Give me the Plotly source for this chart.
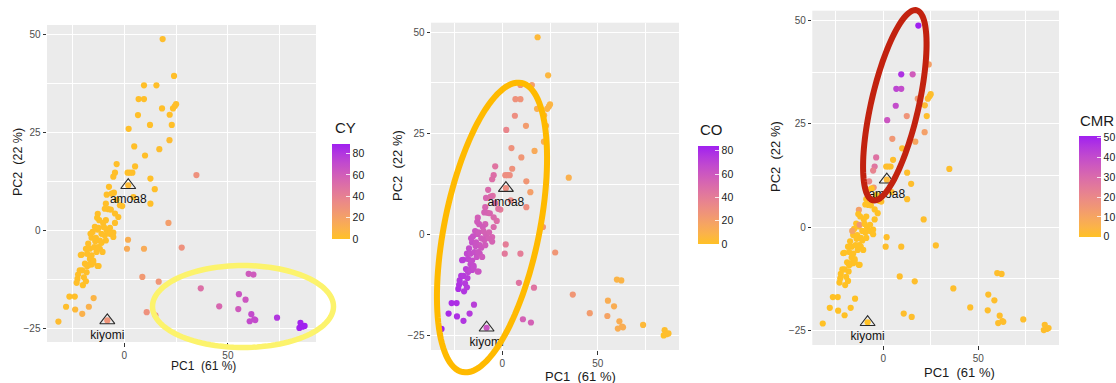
import numpy as np
import plotly.graph_objects as go

W, H = 1116, 383

# ---------------- data ----------------
pc1 = [18.5, 24.0, 9.5, 15.5, 6.9, 9.5, 18.2, 23.5, 24.4, 25.0, 6.6, 21.9, 12.4, 22.9, 2.1,
       21.8, 16.9, 4.8, 10.0, -3.7, 5.2, -4.5, -5.3, 1.6, 2.7, 3.9, 12.6, 34.8, -7.4, 14.7,
       -5.0, -8.5, 4.4, 12.6, -1.0, 21.3, 1.8, 1.3, 9.5, 27.7, 8.7, 16.6, 36.9, 60.0, 62.3,
       55.3, 58.5, 45.8, 55.0, 61.3, 60.5, 62.7, 63.2, 73.7, 85.0, 84.5, 86.0, 87.0, 10.8, 15.0,
       -8.2, 1.9,
       -31.8, -28.1, -26.5, -23.9, -23.7, -20.3, -17.1, -14.8, -23.0, -22.6, -22.3, -21.5, -20.3,
       -18.2, -19.5, -19.0, -17.9, -15.8, -12.9, -21.0, -16.6, -15.0, -17.9, -15.8, -13.4, -11.8,
       -17.4, -18.5, -16.6, -14.5, -12.6, -11.0, -15.3, -15.8, -13.7, -11.8, -9.4, -8.9, -8.5,
       -11.0, -12.9, -14.2, -16.3, -12.4, -12.8, -8.9, -10.2, -12.1, -13.1, -6.9, -5.3, -6.9,
       -5.3, -4.5, -2.9, -4.5, -6.5, -7.7, -8.9, -9.4, -6.1, -3.7, -2.1, -16.7, -20.0, -18.5,
       -15.0, -12.4, -20.5, -14.0, -10.5, -9.8]
pc2 = [48.8, 39.4, 37.0, 37.0, 33.5, 33.5, 31.1, 31.1, 31.7, 32.2, 29.4, 29.5, 26.9, 26.9, 25.9,
       23.0, 20.7, 21.4, 19.1, 16.9, 16.3, 14.7, 13.7, 14.7, 14.7, 14.7, 13.2, 14.1, 11.1, 10.5,
       9.6, 9.1, 8.5, 6.8, 6.2, 1.9, -2.4, -4.7, -4.7, -4.4, -11.9, -13.1, -14.8, -11.1, -11.3,
       -16.3, -17.7, -19.4, -20.1, -21.4, -23.2, -22.7, -22.9, -22.3, -23.6, -24.9, -24.6, -24.4, -20.9, -21.7,
       -23.0, 11.5,
       -23.3, -19.5, -16.9, -16.9, -20.2, -21.3, -19.5, -17.3, -13.4, -12.4, -11.3, -10.2, -10.2,
       -10.7, -12.0, -8.5, -9.2, -8.7, -9.1, -6.3, -7.3, -7.7, -6.0, -6.4, -5.5, -4.7,
       -3.4, -4.7, -4.7, -4.3, -4.3, -3.2, -0.4, -1.9, -1.9, -2.6, -1.3, -2.6, 0.0,
       -0.9, 0.2, 0.9, -0.9, 0.6, 4.2, 2.6, 1.9, 2.6, 3.2, 0.6, -0.6, -0.9,
       -1.7, 1.9, 3.4, 4.3, 5.3, 5.4, 6.8, 5.5, 9.4, 7.8, 6.4, -8.7, -14.0, -13.0,
       -8.2, -9.1, -6.2, -2.8, -5.5, 0.8]
cy = [2, 1, 1, 1, 1, 1, 1, 1, 1, 1, 1, 1, 1, 1, 1,
      3, 2, 1, 1, 1, 1, 1, 1, 1, 1, 1, 1, 30, 1, 1,
      1, 1, 1, 1, 1, 22, 12, 14, 14, 30, 25, 27, 50, 62, 62,
      65, 64, 55, 62, 70, 70, 70, 70, 80, 88, 88, 89, 89, 30, 30,
      28, 4,
      3, 2, 1, 1, 5, 10, 10, 8, 1, 1, 1, 1, 1,
      1, 1, 1, 1, 1, 3, 1, 1, 1, 1, 1, 1, 1,
      1, 1, 1, 1, 1, 0, 1, 1, 1, 1, 1, 1, 1,
      1, 1, 1, 1, 1, 1, 1, 1, 1, 0, 1, 1, 1,
      1, 1, 1, 1, 1, 1, 1, 1, 1, 1, 1, 1, 0, 1,
      1, 1, 1, 1, 1, 1]
co = [5, 6, 25, 20, 28, 27, 10, 8, 8, 7, 30, 10, 22, 12, 35,
      12, 14, 28, 25, 45, 28, 48, 48, 30, 30, 30, 25, 10, 50, 20,
      46, 52, 33, 30, 40, 25, 40, 42, 40, 25, 45, 45, 25, 8, 8,
      12, 12, 22, 18, 12, 12, 12, 12, 5, 2, 0, 2, 2, 55, 55,
      62, 30,
      84, 80, 79, 78, 78, 76, 74, 72, 78, 77, 76, 75, 74,
      73, 74, 72, 70, 68, 60, 74, 67, 66, 68, 66, 63, 61,
      66, 68, 65, 64, 62, 60, 63, 64, 62, 60, 57, 58, 56,
      58, 60, 61, 63, 59, 56, 55, 57, 58, 58, 54, 53, 55,
      54, 50, 48, 50, 52, 52, 53, 54, 50, 47, 45, 68, 76, 74,
      66, 62, 72, 62, 59, 55]
cmr = [51, 12, 47, 35, 42, 40, 14, 2, 1, 1, 40, 2, 16, 1, 37,
       12, 10, 15, 1, 28, 1, 27, 22, 1, 1, 1, 1, 1, 20, 1,
       15, 3, 1, 1, 1, 1, 1, 1, 1, 1, 1, 1, 1, 1, 1,
       1, 1, 1, 1, 1, 1, 1, 1, 1, 1, 1, 1, 1, 1, 1,
       0, 3,
       0, 0, 0, 0, 0, 0, 0, 0, 0, 0, 0, 0, 0,
       0, 0, 0, 0, 0, 0, 0, 0, 0, 0, 0, 0, 0,
       0, 0, 0, 0, 0, 0, 0, 0, 0, 0, 0, 0, 0,
       0, 0, 0, 10, 15, 12, 0, 0, 0, 0, 0, 0, 0,
       0, 0, 0, 0, 0, 0, 0, 0, 0, 0, 0, 0, 0, 0,
       0, 0, 0, 0, 0, 0]

label_names = ["amoa8", "kiyomi"]
label_pc1 = [1.9, -8.2]
label_pc2 = [11.5, -23.0]

x_ticks = [0, 50]
y_ticks = [-25, 0, 25, 50]
cy_ticks = [0, 20, 40, 60, 80]
co_ticks = [0, 20, 40, 60, 80]
cmr_ticks = [0, 10, 20, 30, 40, 50]

FONT = "Liberation Sans, Arial, sans-serif"

# ---------------- colour scale (Lab interpolation, ggplot-like) ----------------
def _hex2rgb(h):
    h = h.lstrip("#")
    return np.array([int(h[i:i + 2], 16) for i in (0, 2, 4)]) / 255.0

def _rgb2lab(c):
    c = np.where(c > 0.04045, ((c + 0.055) / 1.055) ** 2.4, c / 12.92)
    M = np.array([[0.4124, 0.3576, 0.1805], [0.2126, 0.7152, 0.0722], [0.0193, 0.1192, 0.9505]])
    xyz = M @ c / np.array([0.95047, 1.0, 1.08883])
    f = np.where(xyz > 0.008856, np.cbrt(xyz), 7.787 * xyz + 16 / 116)
    return np.array([116 * f[1] - 16, 500 * (f[0] - f[1]), 200 * (f[1] - f[2])])

def _lab2hex(lab):
    fy = (lab[0] + 16) / 116
    fx = fy + lab[1] / 500
    fz = fy - lab[2] / 200
    f = np.array([fx, fy, fz])
    xyz = np.where(f ** 3 > 0.008856, f ** 3, (f - 16 / 116) / 7.787) * np.array([0.95047, 1.0, 1.08883])
    Mi = np.array([[3.2406, -1.5372, -0.4986], [-0.9689, 1.8758, 0.0415], [0.0557, -0.2040, 1.0570]])
    c = Mi @ xyz
    c = np.where(c > 0.0031308, 1.055 * np.abs(c) ** (1 / 2.4) - 0.055, 12.92 * c)
    c = np.clip(c, 0, 1)
    return "#%02x%02x%02x" % tuple(int(round(v * 255)) for v in c)

lo, hi = _rgb2lab(_hex2rgb("#FFC125")), _rgb2lab(_hex2rgb("#A020F0"))
cscale = [[t, _lab2hex(lo + (hi - lo) * t)] for t in np.linspace(0, 1, 11)]

# ---------------- layout helpers ----------------
def px(x):
    return x / W

def py(y):
    return 1 - y / H

panels = [
    dict(name="CY", vals=cy, ticks=cy_ticks, xd=(47, 316), yd=(25, 342),
         cb=(332, 239, 95, 18), cbt=(333, 127), xt=(203, 366, 12), yt=(18, 162, 12.5), tf=10),
    dict(name="CO", vals=co, ticks=co_ticks, xd=(431, 679), yd=(22.7, 350),
         cb=(697.7, 244, 98, 20.5), cbt=(698, 130), xt=(581, 376, 13), yt=(398, 166, 13), tf=10),
    dict(name="CMR", vals=cmr, ticks=cmr_ticks, xd=(812.3, 1059), yd=(10.7, 345),
         cb=(1079.3, 236.7, 100.7, 22.4), cbt=(1078, 120), xt=(959, 372, 13), yt=(776, 157, 13), tf=10),
]

fig = go.Figure()
annotations = []
layout_axes = {}
for i, p in enumerate(panels):
    n = "" if i == 0 else str(i + 1)
    ca = "coloraxis" + n
    fig.add_trace(go.Scatter(
        x=pc1, y=pc2, mode="markers", xaxis="x" + n, yaxis="y" + n,
        marker=dict(color=p["vals"], coloraxis=ca, size=6.2, line=dict(width=0)),
        showlegend=False, hoverinfo="skip"))
    fig.add_trace(go.Scatter(
        x=label_pc1, y=label_pc2, mode="markers+text", xaxis="x" + n, yaxis="y" + n,
        text=label_names, textposition="bottom center",
        textfont=dict(family=FONT, size=12, color="#111111"),
        marker=dict(symbol="triangle-up-open", size=13, color="#2a2a2a", line=dict(width=1.1)),
        showlegend=False, hoverinfo="skip"))
    cbx, cby, cbl, cbth = p["cb"]
    layout_axes[ca] = dict(
        colorscale=cscale, cmin=min(p["vals"]), cmax=max(p["vals"]),
        colorbar=dict(x=px(cbx), xanchor="left", y=py(cby), yanchor="bottom",
                      len=cbl, lenmode="pixels", thickness=cbth, thicknessmode="pixels",
                      xpad=0, ypad=0, outlinewidth=0, tickvals=p["ticks"],
                      ticks="inside", ticklen=4, tickcolor="rgba(255,255,255,0.8)",
                      tickfont=dict(family=FONT, size=10.5, color="#1a1a1a")))
    axcommon = dict(showline=False, zeroline=False, showgrid=True, gridcolor="white", gridwidth=1.1,
                    ticks="outside", ticklen=3.5, tickcolor="#333333", tickwidth=1,
                    tickfont=dict(family=FONT, size=p["tf"], color="#4d4d4d"))
    layout_axes["xaxis" + n] = dict(axcommon, domain=[px(p["xd"][0]), px(p["xd"][1])],
                                    range=[-37.3, 92.5], tickvals=x_ticks, anchor="y" + n,
                                    minor=dict(dtick=25, tick0=-25, showgrid=True, gridcolor="white",
                                               gridwidth=0.5, ticks=""))
    layout_axes["yaxis" + n] = dict(axcommon, domain=[py(p["yd"][1]), py(p["yd"][0])],
                                    range=[-28.5, 52.4], tickvals=y_ticks, anchor="x" + n,
                                    minor=dict(dtick=12.5, tick0=-12.5, showgrid=True, gridcolor="white",
                                               gridwidth=0.5, ticks=""))
    xt = p["xt"]
    annotations.append(dict(text="PC1  (61 %)", x=px(xt[0]), y=py(xt[1]), xref="paper", yref="paper",
                            showarrow=False, xanchor="center", yanchor="middle",
                            font=dict(family=FONT, size=xt[2], color="#1a1a1a")))
    yt = p["yt"]
    annotations.append(dict(text="PC2  (22 %)", x=px(yt[0]), y=py(yt[1]), xref="paper", yref="paper",
                            showarrow=False, xanchor="center", yanchor="middle", textangle=-90,
                            font=dict(family=FONT, size=yt[2], color="#1a1a1a")))
    annotations.append(dict(text=p["name"], x=px(p["cbt"][0]), y=py(p["cbt"][1]), xref="paper", yref="paper",
                            showarrow=False, xanchor="left", yanchor="middle",
                            font=dict(family=FONT, size=15, color="#1a1a1a")))

# hand-drawn highlight ellipses (pixel geometry of the overlay)
def ellipse_path(cx, cy_, a, b, tilt_deg):
    t = np.linspace(0, 2 * np.pi, 121)
    th = np.deg2rad(tilt_deg)
    ux, uy = np.sin(th), -np.cos(th)   # major axis direction (pixels)
    vx, vy = np.cos(th), np.sin(th)
    xs = cx + a * np.cos(t) * ux + b * np.sin(t) * vx
    ys = cy_ + a * np.cos(t) * uy + b * np.sin(t) * vy
    pts = ["%s%.5f,%.5f" % ("M" if k == 0 else "L", px(x), py(y)) for k, (x, y) in enumerate(zip(xs, ys))]
    return " ".join(pts) + " Z"

ellipses = [
    (243, 306.5, 90.5, 41, 90, "#FCF36C", 5.5),
    (492, 227.5, 147.5, 47.5, 11.5, "#FFBA00", 6),
    (894.8, 105.3, 97.5, 23.7, 12.9, "#C2220F", 6),
]
shapes = [dict(type="path", path=ellipse_path(*e[:5]), xref="paper", yref="paper",
               line=dict(color=e[5], width=e[6]), fillcolor="rgba(0,0,0,0)", layer="above")
          for e in ellipses]

fig.update_layout(
    width=W, height=H, margin=dict(l=0, r=0, t=0, b=0, autoexpand=False),
    paper_bgcolor="white", plot_bgcolor="#EBEBEB",
    annotations=annotations, shapes=shapes, showlegend=False,
    **layout_axes)

fig.write_html("out.html")
